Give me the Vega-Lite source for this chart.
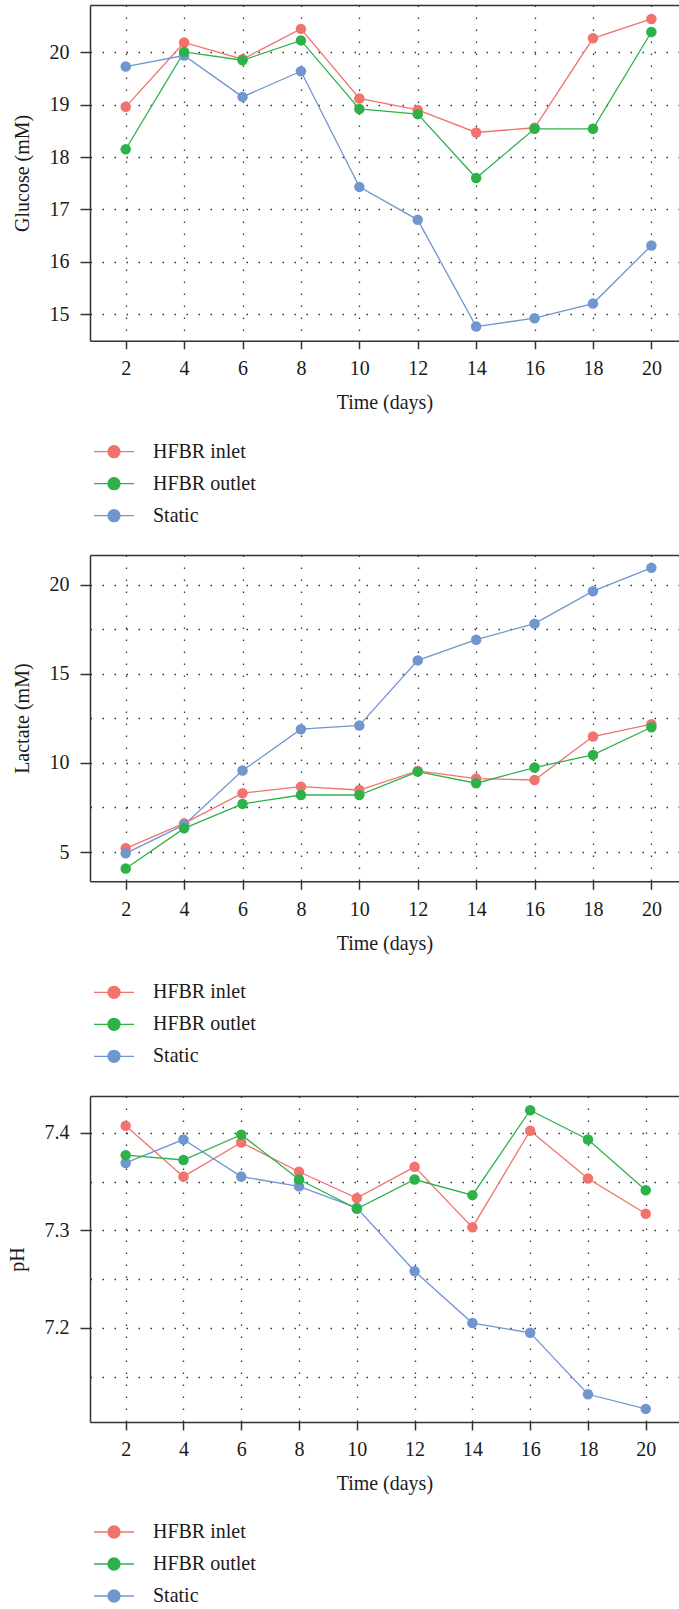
{
  "$schema": "https://vega.github.io/schema/vega-lite/v6.json",
  "padding": {"left": 8, "top": 5, "right": 0, "bottom": 0},
  "background": "white",
  "config": {
    "font": "Liberation Serif",
    "view": {"stroke": null},
    "axis": {
      "labelFont": "Liberation Serif", "labelFontSize": 20, "labelColor": "#1a1a1a",
      "titleFont": "Liberation Serif", "titleFontSize": 20, "titleFontWeight": "normal", "titleColor": "#1a1a1a",
      "domainColor": "#333333", "domainWidth": 1.5,
      "tickColor": "#333333", "tickWidth": 1.5,
      "gridColor": "#000000", "gridDash": [1.5, 10.5], "gridWidth": 1.3, "gridOpacity": 0.8,
      "labelFlush": false, "labelOverlap": false
    },
    "axisX": {"tickSize": 8, "labelPadding": 10, "titlePadding": 14},
    "axisY": {"tickSize": 10, "labelPadding": 11, "titlePadding": 16},
    "legend": {
      "orient": "none", "title": null, "direction": "vertical",
      "labelFont": "Liberation Serif", "labelFontSize": 20, "labelColor": "#1a1a1a",
      "symbolType": "M-3.33,0H3.33M-1,0A1,1,0,1,1,1,0A1,1,0,1,1,-1,0Z",
      "symbolSize": 144, "symbolStrokeWidth": 1.3,
      "rowPadding": 12, "labelOffset": 29, "padding": 0
    }
  },
  "bounds": "flush",
  "spacing": 214,
  "resolve": {"scale": {"color": "independent"}, "legend": {"color": "independent"}},
  "vconcat": [
    {
      "width": 588.7, "height": 335.7,
      "data": {"values": [
        {"day": 2, "group": "HFBR inlet", "value": 18.96}, {"day": 4, "group": "HFBR inlet", "value": 20.19}, {"day": 6, "group": "HFBR inlet", "value": 19.87}, {"day": 8, "group": "HFBR inlet", "value": 20.45}, {"day": 10, "group": "HFBR inlet", "value": 19.12}, {"day": 12, "group": "HFBR inlet", "value": 18.90}, {"day": 14, "group": "HFBR inlet", "value": 18.47}, {"day": 16, "group": "HFBR inlet", "value": 18.56}, {"day": 18, "group": "HFBR inlet", "value": 20.27}, {"day": 20, "group": "HFBR inlet", "value": 20.64},
        {"day": 2, "group": "Static", "value": 19.73}, {"day": 4, "group": "Static", "value": 19.94}, {"day": 6, "group": "Static", "value": 19.15}, {"day": 8, "group": "Static", "value": 19.64}, {"day": 10, "group": "Static", "value": 17.43}, {"day": 12, "group": "Static", "value": 16.80}, {"day": 14, "group": "Static", "value": 14.76}, {"day": 16, "group": "Static", "value": 14.92}, {"day": 18, "group": "Static", "value": 15.20}, {"day": 20, "group": "Static", "value": 16.31},
        {"day": 2, "group": "HFBR outlet", "value": 18.15}, {"day": 4, "group": "HFBR outlet", "value": 20.01}, {"day": 6, "group": "HFBR outlet", "value": 19.85}, {"day": 8, "group": "HFBR outlet", "value": 20.23}, {"day": 10, "group": "HFBR outlet", "value": 18.92}, {"day": 12, "group": "HFBR outlet", "value": 18.82}, {"day": 14, "group": "HFBR outlet", "value": 17.60}, {"day": 16, "group": "HFBR outlet", "value": 18.54}, {"day": 18, "group": "HFBR outlet", "value": 18.54}, {"day": 20, "group": "HFBR outlet", "value": 20.39}
      ]},
      "encoding": {
        "x": {"field": "day", "type": "quantitative", "scale": {"domain": [0.777, 20.935], "nice": false, "zero": false},
              "axis": {"orient": "bottom", "values": [2,4,6,8,10,12,14,16,18,20], "title": "Time (days)", "grid": true}},
        "y": {"field": "value", "type": "quantitative", "scale": {"domain": [14.49, 20.906], "nice": false, "zero": false},
              "axis": {"values": [15,16,17,18,19,20], "title": "Glucose (mM)", "grid": true}},
        "color": {"field": "group", "type": "nominal",
                  "scale": {"domain": ["HFBR inlet", "HFBR outlet", "Static"], "range": ["#F1736D", "#2DB24A", "#7096D0"]},
                  "legend": {"legendX": 14, "legendY": 436.7,
                             "encode": {"symbols": {"update": {
                               "fill": {"signal": "datum.value === 'HFBR inlet' ? '#F1736D' : datum.value === 'HFBR outlet' ? '#2DB24A' : '#7096D0'"},
                               "stroke": {"signal": "datum.value === 'HFBR inlet' ? '#F1736D' : datum.value === 'HFBR outlet' ? '#2DB24A' : '#7096D0'"},
                               "opacity": {"value": 1}}}}}}
      },
      "resolve": {"axis": {"x": "independent"}},
      "layer": [
        {"mark": {"type": "line", "strokeWidth": 1.3},
         "encoding": {"x": {"field": "day", "type": "quantitative", "scale": {"domain": [0.777, 20.935], "nice": false, "zero": false},
                            "axis": {"orient": "top", "labels": false, "ticks": false, "grid": false, "domain": true, "title": null}}}},
        {"mark": {"type": "point", "filled": true, "size": 110, "opacity": 1}}
      ]
    },
    {
      "width": 588.7, "height": 326.3,
      "data": {"values": [
        {"day": 2, "group": "HFBR inlet", "value": 5.21}, {"day": 4, "group": "HFBR inlet", "value": 6.61}, {"day": 6, "group": "HFBR inlet", "value": 8.30}, {"day": 8, "group": "HFBR inlet", "value": 8.67}, {"day": 10, "group": "HFBR inlet", "value": 8.48}, {"day": 12, "group": "HFBR inlet", "value": 9.55}, {"day": 14, "group": "HFBR inlet", "value": 9.12}, {"day": 16, "group": "HFBR inlet", "value": 9.04}, {"day": 18, "group": "HFBR inlet", "value": 11.48}, {"day": 20, "group": "HFBR inlet", "value": 12.17},
        {"day": 2, "group": "Static", "value": 4.93}, {"day": 4, "group": "Static", "value": 6.52}, {"day": 6, "group": "Static", "value": 9.57}, {"day": 8, "group": "Static", "value": 11.89}, {"day": 10, "group": "Static", "value": 12.10}, {"day": 12, "group": "Static", "value": 15.75}, {"day": 14, "group": "Static", "value": 16.91}, {"day": 16, "group": "Static", "value": 17.81}, {"day": 18, "group": "Static", "value": 19.63}, {"day": 20, "group": "Static", "value": 20.94},
        {"day": 2, "group": "HFBR outlet", "value": 4.08}, {"day": 4, "group": "HFBR outlet", "value": 6.33}, {"day": 6, "group": "HFBR outlet", "value": 7.70}, {"day": 8, "group": "HFBR outlet", "value": 8.20}, {"day": 10, "group": "HFBR outlet", "value": 8.20}, {"day": 12, "group": "HFBR outlet", "value": 9.51}, {"day": 14, "group": "HFBR outlet", "value": 8.86}, {"day": 16, "group": "HFBR outlet", "value": 9.74}, {"day": 18, "group": "HFBR outlet", "value": 10.45}, {"day": 20, "group": "HFBR outlet", "value": 12.00}
      ]},
      "encoding": {
        "x": {"field": "day", "type": "quantitative", "scale": {"domain": [0.777, 20.935], "nice": false, "zero": false},
              "axis": {"orient": "bottom", "values": [2,4,6,8,10,12,14,16,18,20], "title": "Time (days)", "grid": true}},
        "y": {"field": "value", "type": "quantitative", "scale": {"domain": [3.36, 21.66], "nice": false, "zero": false},
              "axis": {"values": [5,7.5,10,12.5,15,17.5,20], "title": "Lactate (mM)", "grid": true,
                       "labelExpr": "datum.value % 5 === 0 ? datum.label : ''",
                       "tickOpacity": {"expr": "datum.value % 5 === 0 ? 1 : 0"}}},
        "color": {"field": "group", "type": "nominal",
                  "scale": {"domain": ["HFBR inlet", "HFBR outlet", "Static"], "range": ["#F1736D", "#2DB24A", "#7096D0"]},
                  "legend": {"legendX": 14, "legendY": 427.3,
                             "encode": {"symbols": {"update": {
                               "fill": {"signal": "datum.value === 'HFBR inlet' ? '#F1736D' : datum.value === 'HFBR outlet' ? '#2DB24A' : '#7096D0'"},
                               "stroke": {"signal": "datum.value === 'HFBR inlet' ? '#F1736D' : datum.value === 'HFBR outlet' ? '#2DB24A' : '#7096D0'"},
                               "opacity": {"value": 1}}}}}}
      },
      "resolve": {"axis": {"x": "independent"}},
      "layer": [
        {"mark": {"type": "line", "strokeWidth": 1.3},
         "encoding": {"x": {"field": "day", "type": "quantitative", "scale": {"domain": [0.777, 20.935], "nice": false, "zero": false},
                            "axis": {"orient": "top", "labels": false, "ticks": false, "grid": false, "domain": true, "title": null}}}},
        {"mark": {"type": "point", "filled": true, "size": 110, "opacity": 1}}
      ]
    },
    {
      "width": 588.7, "height": 326,
      "data": {"values": [
        {"day": 2, "group": "HFBR inlet", "value": 7.407}, {"day": 4, "group": "HFBR inlet", "value": 7.355}, {"day": 6, "group": "HFBR inlet", "value": 7.390}, {"day": 8, "group": "HFBR inlet", "value": 7.360}, {"day": 10, "group": "HFBR inlet", "value": 7.333}, {"day": 12, "group": "HFBR inlet", "value": 7.365}, {"day": 14, "group": "HFBR inlet", "value": 7.303}, {"day": 16, "group": "HFBR inlet", "value": 7.402}, {"day": 18, "group": "HFBR inlet", "value": 7.353}, {"day": 20, "group": "HFBR inlet", "value": 7.317},
        {"day": 2, "group": "Static", "value": 7.369}, {"day": 4, "group": "Static", "value": 7.393}, {"day": 6, "group": "Static", "value": 7.355}, {"day": 8, "group": "Static", "value": 7.345}, {"day": 10, "group": "Static", "value": 7.323}, {"day": 12, "group": "Static", "value": 7.258}, {"day": 14, "group": "Static", "value": 7.205}, {"day": 16, "group": "Static", "value": 7.195}, {"day": 18, "group": "Static", "value": 7.132}, {"day": 20, "group": "Static", "value": 7.117},
        {"day": 2, "group": "HFBR outlet", "value": 7.377}, {"day": 4, "group": "HFBR outlet", "value": 7.372}, {"day": 6, "group": "HFBR outlet", "value": 7.398}, {"day": 8, "group": "HFBR outlet", "value": 7.352}, {"day": 10, "group": "HFBR outlet", "value": 7.322}, {"day": 12, "group": "HFBR outlet", "value": 7.352}, {"day": 14, "group": "HFBR outlet", "value": 7.336}, {"day": 16, "group": "HFBR outlet", "value": 7.423}, {"day": 18, "group": "HFBR outlet", "value": 7.393}, {"day": 20, "group": "HFBR outlet", "value": 7.341}
      ]},
      "encoding": {
        "x": {"field": "day", "type": "quantitative", "scale": {"domain": [0.765, 21.14], "nice": false, "zero": false},
              "axis": {"orient": "bottom", "values": [2,4,6,8,10,12,14,16,18,20], "title": "Time (days)", "grid": true}},
        "y": {"field": "value", "type": "quantitative", "scale": {"domain": [7.1036, 7.4376], "nice": false, "zero": false},
              "axis": {"values": [7.15,7.2,7.25,7.3,7.35,7.4], "title": "pH", "grid": true,
                       "labelExpr": "abs(datum.value * 10 - round(datum.value * 10)) < 0.001 ? format(datum.value, '.1f') : ''",
                       "tickOpacity": {"expr": "abs(datum.value * 10 - round(datum.value * 10)) < 0.001 ? 1 : 0"}}},
        "color": {"field": "group", "type": "nominal",
                  "scale": {"domain": ["HFBR inlet", "HFBR outlet", "Static"], "range": ["#F1736D", "#2DB24A", "#7096D0"]},
                  "legend": {"legendX": 14, "legendY": 426,
                             "encode": {"symbols": {"update": {
                               "fill": {"signal": "datum.value === 'HFBR inlet' ? '#F1736D' : datum.value === 'HFBR outlet' ? '#2DB24A' : '#7096D0'"},
                               "stroke": {"signal": "datum.value === 'HFBR inlet' ? '#F1736D' : datum.value === 'HFBR outlet' ? '#2DB24A' : '#7096D0'"},
                               "opacity": {"value": 1}}}}}}
      },
      "resolve": {"axis": {"x": "independent"}},
      "layer": [
        {"mark": {"type": "line", "strokeWidth": 1.3},
         "encoding": {"x": {"field": "day", "type": "quantitative", "scale": {"domain": [0.765, 21.14], "nice": false, "zero": false},
                            "axis": {"orient": "top", "labels": false, "ticks": false, "grid": false, "domain": true, "title": null}}}},
        {"mark": {"type": "point", "filled": true, "size": 110, "opacity": 1}}
      ]
    }
  ]
}
